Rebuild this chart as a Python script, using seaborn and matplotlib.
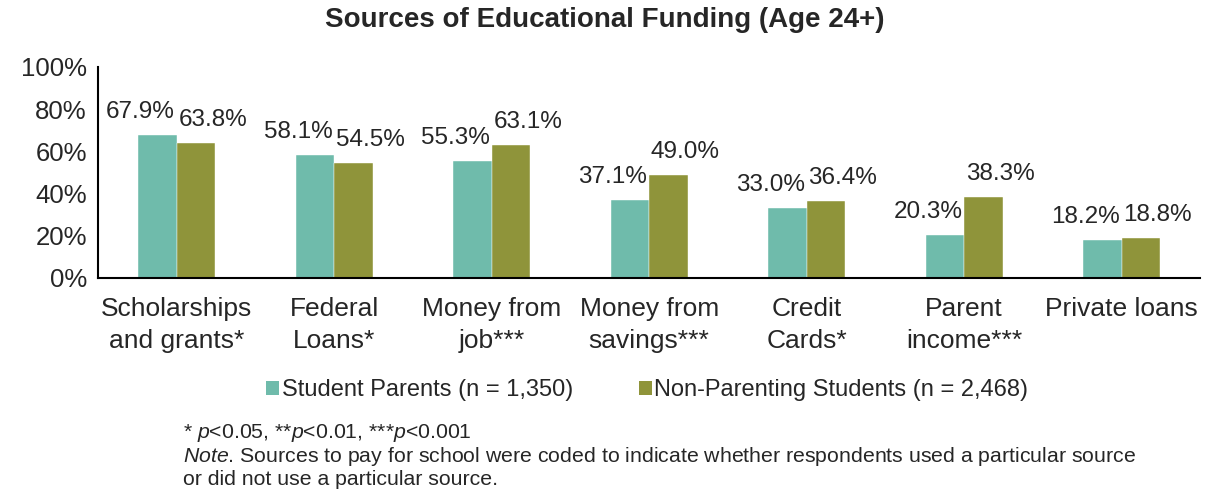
import matplotlib
matplotlib.use("Agg")
import matplotlib.pyplot as plt
import seaborn as sns
import pandas as pd
from matplotlib.patches import Patch

categories = ["Scholarships\nand grants*", "Federal\nLoans*", "Money from\njob***",
              "Money from\nsavings***", "Credit\nCards*", "Parent\nincome***", "Private loans"]
series_names = ["Student Parents (n = 1,350)", "Non-Parenting Students (n = 2,468)"]
student_parents = [67.9, 58.1, 55.3, 37.1, 33.0, 20.3, 18.2]
non_parenting = [63.8, 54.5, 63.1, 49.0, 36.4, 38.3, 18.8]
yticks = [0, 20, 40, 60, 80, 100]
colors = ["#6FBBAB", "#8F943A"]

sns.set_theme(style="white")
plt.rcParams["font.family"] = ["Liberation Sans", "DejaVu Sans"]
plt.rcParams["mathtext.fontset"] = "custom"
plt.rcParams["mathtext.rm"] = "Liberation Sans"
plt.rcParams["mathtext.it"] = "Liberation Sans:italic"

df = pd.DataFrame({
    "category": categories * 2,
    "series": [series_names[0]] * len(categories) + [series_names[1]] * len(categories),
    "value": student_parents + non_parenting,
})

fig = plt.figure(figsize=(12.1, 4.92), dpi=100)
ax = fig.add_axes([0.081, 0.435, 0.911, 0.429])
sns.barplot(data=df, x="category", y="value", hue="series", palette=colors,
            width=0.49, gap=0, ax=ax, legend=False, saturation=1,
            edgecolor="#ffffff", linewidth=0.3)

ax.set_ylim(0, 100)
ax.set_yticks(yticks)
ax.set_yticklabels([f"{v}%" for v in yticks], fontsize=18.5)
ax.set_xlabel("")
ax.set_ylabel("")
ax.tick_params(axis="x", labelsize=19, length=0, pad=14)
ax.tick_params(axis="y", length=0, pad=8)
for lbl in ax.get_xticklabels():
    lbl.set_linespacing(1.38)
    lbl.set_verticalalignment("top")
for s in ["top", "right"]:
    ax.spines[s].set_visible(False)
for s in ["left", "bottom"]:
    ax.spines[s].set_color("black")
    ax.spines[s].set_linewidth(1.5)
ax.grid(False)

offsets = [-17, 17]
for ci, cont in enumerate(ax.containers):
    for bar in cont:
        h = bar.get_height()
        ax.annotate(f"{h:.1f}%", (bar.get_x() + bar.get_width() / 2, h),
                    xytext=(offsets[ci], 17), textcoords="offset pixels",
                    ha="center", va="baseline", fontsize=17.5)

fig.suptitle("Sources of Educational Funding (Age 24+)", x=0.5, y=0.985,
             fontsize=20, fontweight="bold")

handles = [Patch(facecolor=c, edgecolor="none") for c in colors]
fig.legend(handles, series_names, loc="center", bbox_to_anchor=(0.535, 0.207),
           ncol=2, frameon=False, fontsize=17, handlelength=0.55, handleheight=0.55,
           handletextpad=0.1, columnspacing=2.8)

fig.text(0.151, 0.120, r"* $p$<0.05, **$p$<0.01, ***$p$<0.001", fontsize=15.3, va="center")
fig.text(0.151, 0.073, r"$Note$. Sources to pay for school were coded to indicate whether respondents used a particular source",
         fontsize=15.3, va="center")
fig.text(0.151, 0.026, "or did not use a particular source.", fontsize=15.3, va="center")

fig.savefig("out.png", dpi=100)
